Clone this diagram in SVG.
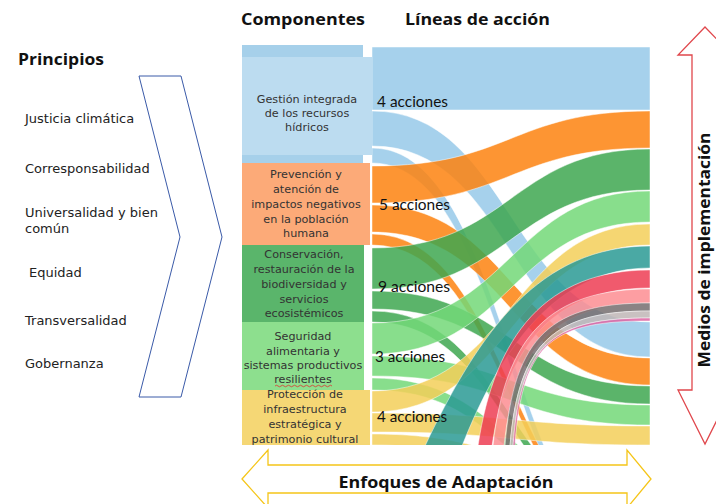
<svg xmlns="http://www.w3.org/2000/svg" width="716" height="504" viewBox="0 0 716 504">
<style>
.hdr{font-family:"Open Sans","Liberation Sans",sans-serif;font-weight:700;font-size:16px;fill:#111}
.pr{font-family:"DejaVu Sans","Liberation Sans",sans-serif;font-size:13px;fill:#222}
.bx{font-family:"DejaVu Sans","Liberation Sans",sans-serif;font-size:11.2px;fill:#333;text-anchor:middle}
.lab{font-family:Lato,"Liberation Sans",sans-serif;font-size:15px;fill:#111}
.fl{fill-opacity:0.85;stroke:#fff;stroke-width:0.6;stroke-opacity:0.8}
</style>
<defs>
<clipPath id="sk"><rect x="372" y="47" width="278" height="398"/></clipPath>
</defs>

<g id="titles">
<text class="hdr" x="241" y="25" textLength="124" lengthAdjust="spacingAndGlyphs">Componentes</text>
<text class="hdr" x="405" y="25" textLength="145" lengthAdjust="spacingAndGlyphs">Líneas de acción</text>
</g>

<g id="principios">
<text class="hdr" x="18" y="65" textLength="86" lengthAdjust="spacingAndGlyphs">Principios</text>
<text class="pr" x="25" y="123">Justicia climática</text>
<text class="pr" x="25" y="173">Corresponsabilidad</text>
<text class="pr" x="25" y="217">Universalidad y bien</text>
<text class="pr" x="25" y="233">común</text>
<text class="pr" x="29" y="277">Equidad</text>
<text class="pr" x="25" y="325">Transversalidad</text>
<text class="pr" x="25" y="368">Gobernanza</text>
<path d="M139,76 L181,76 L222,237 L181,397 L139,397 L180,237 Z" fill="none" stroke="#3a5aa8" stroke-width="1"/>
</g>

<g id="sankey" clip-path="url(#sk)">
<path class="fl" fill="#96c9e9" d="M372,47 H650 V110 H372 Z"/>
<path class="fl" fill="#96c9e9" d="M372,111 C511,111 511,322 650,322 L650,357 C511,357 511,146 372,146 Z"/>
<path class="fl" fill="#96c9e9" d="M372,148 C511,148 511,560 650,560 L650,575 C511,575 511,163 372,163 Z"/>
<path class="fl" fill="#fd820f" d="M372,166 C511,166 511,111 650,111 L650,148 C511,148 511,203 372,203 Z"/>
<path class="fl" fill="#fd820f" d="M372,205 C511,205 511,358 650,358 L650,385 C511,385 511,232 372,232 Z"/>
<path class="fl" fill="#fd820f" d="M372,234 C511,234 511,540 650,540 L650,551 C511,551 511,245 372,245 Z"/>
<path class="fl" fill="#3ea750" d="M372,248 C511,248 511,149 650,149 L650,190 C511,190 511,289 372,289 Z"/>
<path class="fl" fill="#3ea750" d="M372,291 C511,291 511,386 650,386 L650,404 C511,404 511,309 372,309 Z"/>
<path class="fl" fill="#3ea750" d="M372,311 C511,311 511,520 650,520 L650,531 C511,531 511,322 372,322 Z"/>
<path class="fl" fill="#73d878" d="M372,323 C511,323 511,191 650,191 L650,222 C511,222 511,354 372,354 Z"/>
<path class="fl" fill="#73d878" d="M372,356 C511,356 511,405 650,405 L650,425 C511,425 511,376 372,376 Z"/>
<path class="fl" fill="#73d878" d="M372,378 C511,378 511,500 650,500 L650,512 C511,512 511,390 372,390 Z"/>
<path class="fl" fill="#f3cf59" d="M372,391 C511,391 511,224 650,224 L650,245 C511,245 511,412 372,412 Z"/>
<path class="fl" fill="#f3cf59" d="M372,413 C511,413 511,426 650,426 L650,445 C511,445 511,432 372,432 Z"/>
<path class="fl" fill="#f3cf59" d="M372,434 C511,434 511,480 650,480 L650,491 C511,491 511,445 372,445 Z"/>
<path class="fl" fill="#2a9a94" d="M425,446 C480,330 540,246 650,246 L650,268 C555,268 500,350 462,446 Z"/>
<path class="fl" fill="#ed3d54" d="M478,446 C494.5,334.8 546.3,270 650,270 L650,288 C554.2,288 506.3,346.1 492,446 Z"/>
<path class="fl" fill="#fd8d92" d="M493,446 C504.9,335.8 550.2,289 650,289 L650,303 C556.6,303 514.2,345.6 504,446 Z"/>
<path class="fl" fill="#756d6e" d="M505,446 C513.7,334.2 552.9,303 650,303 L650,311 C556.2,311 518.4,340.5 510,446 Z"/>
<path class="fl" fill="#c0b6b6" d="M510,446 C518.4,340.5 556.2,311 650,311 L650,318 C555.5,318 520.5,340.9 513,446 Z"/>
<path class="fl" fill="#dd64a2" d="M513,446 C520.5,340.9 555.5,318 650,318 L650,321 C555.5,321 521.8,339.6 515,446 Z"/>
</g>

<g id="sankey-labels">
<text class="lab" x="377" y="107" textLength="71" lengthAdjust="spacingAndGlyphs">4 acciones</text>
<text class="lab" x="379" y="210" textLength="71" lengthAdjust="spacingAndGlyphs">5 acciones</text>
<text class="lab" x="378" y="292" textLength="72" lengthAdjust="spacingAndGlyphs">9 acciones</text>
<text class="lab" x="375" y="362" textLength="70" lengthAdjust="spacingAndGlyphs">3 acciones</text>
<text class="lab" x="377" y="422" textLength="70" lengthAdjust="spacingAndGlyphs">4 acciones</text>
</g>

<g id="comp-agua">
<rect x="242" y="45" width="121" height="12" fill="#a6d0ea"/>
<rect x="242" y="57" width="130" height="98" fill="#bcdcf0"/>
<rect x="242" y="155" width="121" height="8" fill="#a6d0ea"/>
<text class="bx" x="307" y="103">Gestión integrada</text>
<text class="bx" x="307" y="117">de los recursos</text>
<text class="bx" x="307" y="131">hídricos</text>
</g>

<g id="comp-poblacion">
<rect x="242" y="163" width="128" height="82" fill="#fcaa78"/>
<text class="bx" x="306" y="178">Prevención y</text>
<text class="bx" x="306" y="193">atención de</text>
<text class="bx" x="306" y="208">impactos negativos</text>
<text class="bx" x="306" y="223">en la población</text>
<text class="bx" x="306" y="237">humana</text>
</g>

<g id="comp-biodiversidad">
<rect x="242" y="245" width="122" height="77" fill="#5ab56b"/>
<text class="bx" x="304" y="258">Conservación,</text>
<text class="bx" x="304" y="273">restauración de la</text>
<text class="bx" x="304" y="288">biodiversidad y</text>
<text class="bx" x="304" y="303">servicios</text>
<text class="bx" x="304" y="317">ecosistémicos</text>
</g>

<g id="comp-alimentaria">
<rect x="242" y="322" width="122" height="68" fill="#8ddf8e"/>
<text class="bx" x="303" y="340">Seguridad</text>
<text class="bx" x="303" y="355">alimentaria y</text>
<text class="bx" x="303" y="369">sistemas productivos</text>
<text class="bx" x="303" y="383">resilientes</text>
<path d="M275,386 q1.5,-1.5 3,0 t3,0 t3,0 t3,0 t3,0 t3,0 t3,0 t3,0 t3,0 t3,0 t3,0 t3,0 t3,0 t3,0 t3,0 t3,0 t3,0 t3,0 t3,0" fill="none" stroke="#e03030" stroke-width="0.8"/>
</g>

<g id="comp-infraestructura">
<rect x="242" y="390" width="128" height="55" fill="#f5d775"/>
<text class="bx" x="305" y="398">Protección de</text>
<text class="bx" x="305" y="413">infraestructura</text>
<text class="bx" x="305" y="428">estratégica y</text>
<text class="bx" x="305" y="443">patrimonio cultural</text>
</g>

<g id="medios">
<path d="M705,27 L678,55 L692,55 L692,390 L678,390 L705,444 L732,390 L718,390 L718,55 L732,55 Z" fill="none" stroke="#e0474c" stroke-width="1.3"/>
<text class="hdr" transform="translate(710,250) rotate(-90)" text-anchor="middle" font-size="15" textLength="235" lengthAdjust="spacingAndGlyphs">Medios de implementación</text>
</g>

<g id="enfoques">
<path d="M242,479 L268,450 L268,465 L627,465 L627,450 L651,479 L627,508 L627,493 L268,493 L268,508 Z" fill="none" stroke="#f5c518" stroke-width="1.3"/>
<text class="hdr" x="446" y="488" text-anchor="middle" textLength="215" lengthAdjust="spacingAndGlyphs">Enfoques de Adaptación</text>
</g>
</svg>
